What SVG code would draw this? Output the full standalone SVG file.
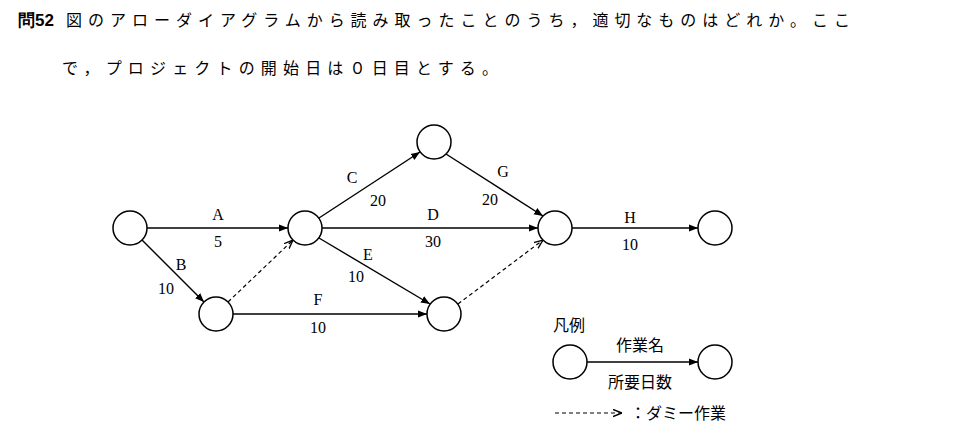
<svg xmlns="http://www.w3.org/2000/svg" width="974" height="440" viewBox="0 0 974 440">
<defs>
<marker id="ah" viewBox="0 0 10 10" refX="10" refY="5" markerWidth="9" markerHeight="9" markerUnits="userSpaceOnUse" orient="auto"><path d="M0,1 L10,5 L0,9 z" fill="#000"/></marker>
<marker id="oh" viewBox="0 0 10 10" refX="10" refY="5" markerWidth="9" markerHeight="9" markerUnits="userSpaceOnUse" orient="auto"><path d="M0,1 L10,5 L0,9" fill="none" stroke="#000" stroke-width="1.5"/></marker>
</defs>
<style>
.n{fill:#fff;stroke:#000;stroke-width:1.5}
.e{stroke:#000;stroke-width:1.4;fill:none;marker-end:url(#ah)}
.d{stroke:#000;stroke-width:1.2;fill:none;stroke-dasharray:4 3;marker-end:url(#oh)}
.t{font-family:"Liberation Serif",serif;font-size:16px;text-anchor:middle}
.j{font-family:"Noto Sans CJK JP",sans-serif;font-size:16px}
</style>
<rect width="974" height="440" fill="#fff"/>
<text x="18" y="26" font-family="Liberation Sans,sans-serif" font-weight="bold" font-size="17">問52</text>
<text x="66" y="26" class="j" font-size="19" textLength="784" lengthAdjust="spacing">図のアローダイアグラムから読み取ったことのうち，適切なものはどれか。ここ</text>
<text x="62" y="74" class="j" font-size="19" textLength="436" lengthAdjust="spacing">で，プロジェクトの開始日は０日目とする。</text>
<g id="connectors">
<line class="e" x1="147" y1="228" x2="288" y2="228"/>
<line class="e" x1="142" y1="240" x2="204" y2="302"/>
<line class="d" x1="228" y1="302" x2="293" y2="240"/>
<line class="e" x1="233" y1="314" x2="427" y2="314"/>
<line class="e" x1="319" y1="218" x2="420" y2="152"/>
<line class="e" x1="322" y1="228" x2="538" y2="228"/>
<line class="e" x1="319" y1="238" x2="430" y2="304"/>
<line class="e" x1="446" y1="154" x2="543" y2="216"/>
<line class="d" x1="458" y1="304" x2="543" y2="240"/>
<line class="e" x1="572" y1="228" x2="698" y2="228"/>
<line class="e" x1="587" y1="362" x2="698" y2="362"/>
<line class="d" x1="555" y1="413" x2="622" y2="413"/>
</g>
<g id="n1"><circle class="n" cx="130" cy="228" r="17"/></g>
<g id="n2"><circle class="n" cx="216" cy="314" r="17"/></g>
<g id="n3"><circle class="n" cx="305" cy="228" r="17"/></g>
<g id="n4"><circle class="n" cx="434" cy="142" r="17"/></g>
<g id="n5"><circle class="n" cx="555" cy="228" r="17"/></g>
<g id="n6"><circle class="n" cx="444" cy="314" r="17"/></g>
<g id="n7"><circle class="n" cx="715" cy="228" r="17"/></g>
<g id="l1"><circle class="n" cx="570" cy="362" r="17"/></g>
<g id="l2"><circle class="n" cx="715" cy="362" r="17"/></g>
<g id="labels">
<text class="t" x="218" y="220">A</text><text class="t" x="218" y="247">5</text>
<text class="t" x="181" y="270">B</text><text class="t" x="166" y="294">10</text>
<text class="t" x="352" y="183">C</text><text class="t" x="378" y="206">20</text>
<text class="t" x="433" y="220">D</text><text class="t" x="433" y="247">30</text>
<text class="t" x="368" y="260">E</text><text class="t" x="356" y="282">10</text>
<text class="t" x="318" y="305">F</text><text class="t" x="318" y="333">10</text>
<text class="t" x="503" y="177">G</text><text class="t" x="490" y="205">20</text>
<text class="t" x="630" y="223">H</text><text class="t" x="630" y="250">10</text>
<text class="j" x="553" y="331">凡例</text>
<text class="j" x="640" y="351" text-anchor="middle">作業名</text>
<text class="j" x="640" y="388" text-anchor="middle">所要日数</text>
<text class="j" x="630" y="419">：ダミー作業</text>
</g>
</svg>
